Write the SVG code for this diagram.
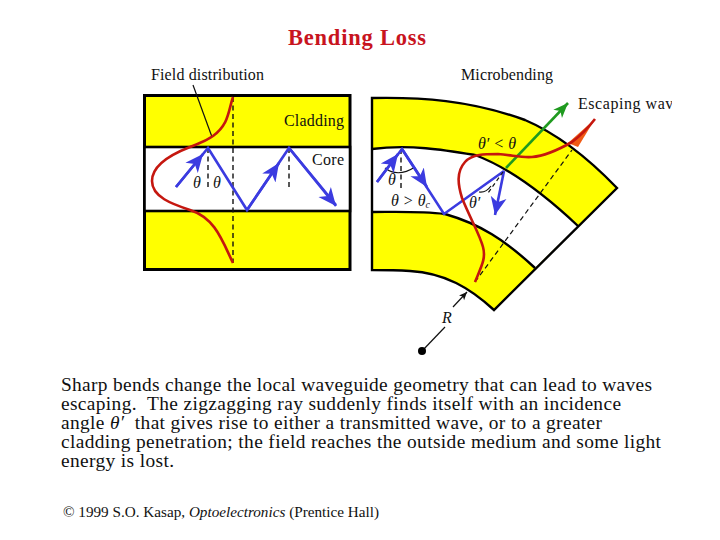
<svg xmlns="http://www.w3.org/2000/svg" width="720" height="540" viewBox="0 0 720 540">
<defs>
<marker id="ab" markerUnits="userSpaceOnUse" markerWidth="24" markerHeight="20" refX="18" refY="9" orient="auto"><path d="M0 1L18 9L0 17L5 9Z" fill="#3b3be0"/></marker>
<marker id="ag" markerUnits="userSpaceOnUse" markerWidth="20" markerHeight="16" refX="15" refY="7" orient="auto"><path d="M0 1L15 7L0 13L4 7Z" fill="#1f9a1f"/></marker>
<marker id="ak" markerUnits="userSpaceOnUse" markerWidth="10" markerHeight="8" refX="8" refY="3.5" orient="auto"><path d="M0 0L8 3.5L0 7L2 3.5Z" fill="#111"/></marker>
</defs>
<style>
text{font-family:"Liberation Serif","Times New Roman",serif;fill:#111;white-space:pre}
.l{font-size:16px}
.b{font-size:19.4px}
.i{font-style:italic}
.edge{fill:none;stroke:#000;stroke-width:2.4}
.ray{fill:none;stroke:#3b3be0;stroke-width:2.6;stroke-linejoin:miter}
.field{fill:none;stroke:#c5170f;stroke-width:2.6}
.dash{fill:none;stroke:#111;stroke-width:1.4;stroke-dasharray:5 3.5}
.thin{fill:none;stroke:#111;stroke-width:1.2}
</style>
<text x="288" y="45" textLength="138" style="font-size:22.5px;font-weight:bold;fill:#c8141e">Bending Loss</text>

<g id="straight-guide">
<rect x="144.500" y="95.500" width="205.500" height="174" fill="#ffff00" stroke="#000" stroke-width="3"/>
<rect x="144.500" y="147" width="205.500" height="64" fill="#fff" stroke="#000" stroke-width="2.600"/>
</g>
<g id="bent-guide">
<path d="M372 98C420 97 470 100 525 120C558 134 590 160 617 188L494 310C470 288 445 273 410 271C395 270 384 270 372 270Z" fill="#ffff00"/>
<path d="M372 149C410 144 445 150 475 155C510 168 545 195 578 226L535 268C505 240 480 224 445 214C420 211 395 212 372 212Z" fill="#fff"/>
<path class="edge" d="M372 98C420 97 470 100 525 120C558 134 590 160 617 188L494 310C470 288 445 273 410 271C395 270 384 270 372 270Z"/>
<path class="edge" d="M372 149C410 144 445 150 475 155C510 168 545 195 578 226"/>
<path class="edge" d="M372 212C395 212 420 211 445 214C480 224 505 240 535 268"/>
</g>

<g id="connectors">
<path class="dash" d="M233 97V263"/>
<path class="dash" d="M208 148V190M289 148V190"/>
<path class="ray" d="M176 187L208 148L247 210L289 148L336 205"/>
<path class="ray" d="M176 187L203 154" marker-end="url(#ab)"/>
<path class="ray" d="M247 210L279 163" marker-end="url(#ab)"/>
<path class="ray" d="M289 148L336 206" marker-end="url(#ab)"/>
<path class="thin" d="M193 85L212 137"/>
<path class="field" d="M233 97C228 112 229 124 213 136C203 143 196 144 190 147C172 154 152 165 152 181C152 197 172 204 190 210C215 218 222 240 233 263"/>

<path class="dash" d="M401 149L401 190"/>
<path class="thin" d="M385 168Q398 178 415 167"/>
<path class="ray" d="M377 182L402 149L444 214L504 171"/>
<path class="ray" d="M377 182L398 154" marker-end="url(#ab)"/>
<path class="ray" d="M402 149L427 187" marker-end="url(#ab)"/>
<path class="ray" d="M504 171L495 215" marker-end="url(#ab)"/>
<path class="thin" stroke-dasharray="4 3" d="M503 172L488 193"/>
<path class="thin" d="M479 192Q486 193 491 186"/>
<path d="M506 168L568 103" fill="none" stroke="#1f9a1f" stroke-width="2.600" marker-end="url(#ag)"/>
<path class="thin" stroke-dasharray="5 3.500" d="M475 282L572 150"/>
<path d="M568 143L595 119L578 147Z" fill="#f05a14"/>
<path class="field" d="M475 282C482 265 486 258 483 247C480 235 470 218 462 198C458 185 456 172 465 162C472 154 485 154 498 154C512 155 522 158 532 157C545 156 558 150 572 142C580 136 588 128 595 119"/>
<path class="thin" d="M453 307L467 292" marker-end="url(#ak)"/>
<path class="thin" d="M422 351L445 327"/>
<circle cx="422" cy="351" r="4" fill="#000"/>
</g>

<g id="labels">
<text class="l" x="151" y="80" textLength="113">Field distribution</text>
<text class="l" x="284" y="126" textLength="60">Cladding</text>
<text class="l" x="312" y="165" textLength="32">Core</text>
<text class="l i" x="193" y="188">θ</text>
<text class="l i" x="213" y="188">θ</text>
<text class="l" x="461" y="80" textLength="92">Microbending</text>
<svg x="0" y="0" width="672" height="540" viewBox="0 0 672 540"><text class="l" x="578" y="109" textLength="103">Escaping wave</text></svg>
<text class="l i" x="478" y="149">θ′ &lt; θ</text>
<text class="l i" x="388" y="185">θ</text>
<text class="l i" x="391" y="206">θ &gt; θ<tspan font-size="10" dy="2">c</tspan></text>
<text class="l i" x="469" y="208">θ′</text>
<text class="l i" x="442" y="323">R</text>
</g>

<g id="caption">
<text class="b" x="61" y="391" textLength="591">Sharp bends change the local waveguide geometry that can lead to waves</text>
<text class="b" x="61" y="410" textLength="560">escaping.  The zigzagging ray suddenly finds itself with an incidence</text>
<text class="b" x="61" y="429" textLength="541">angle <tspan class="i">θ′</tspan>  that gives rise to either a transmitted wave, or to a greater</text>
<text class="b" x="61" y="448" textLength="600">cladding penetration; the field reaches the outside medium and some light</text>
<text class="b" x="61" y="467" textLength="113">energy is lost.</text>
<text x="63" y="517" style="font-size:15.2px">© 1999 S.O. Kasap, <tspan class="i">Optoelectronics</tspan> (Prentice Hall)</text>
</g>
</svg>
